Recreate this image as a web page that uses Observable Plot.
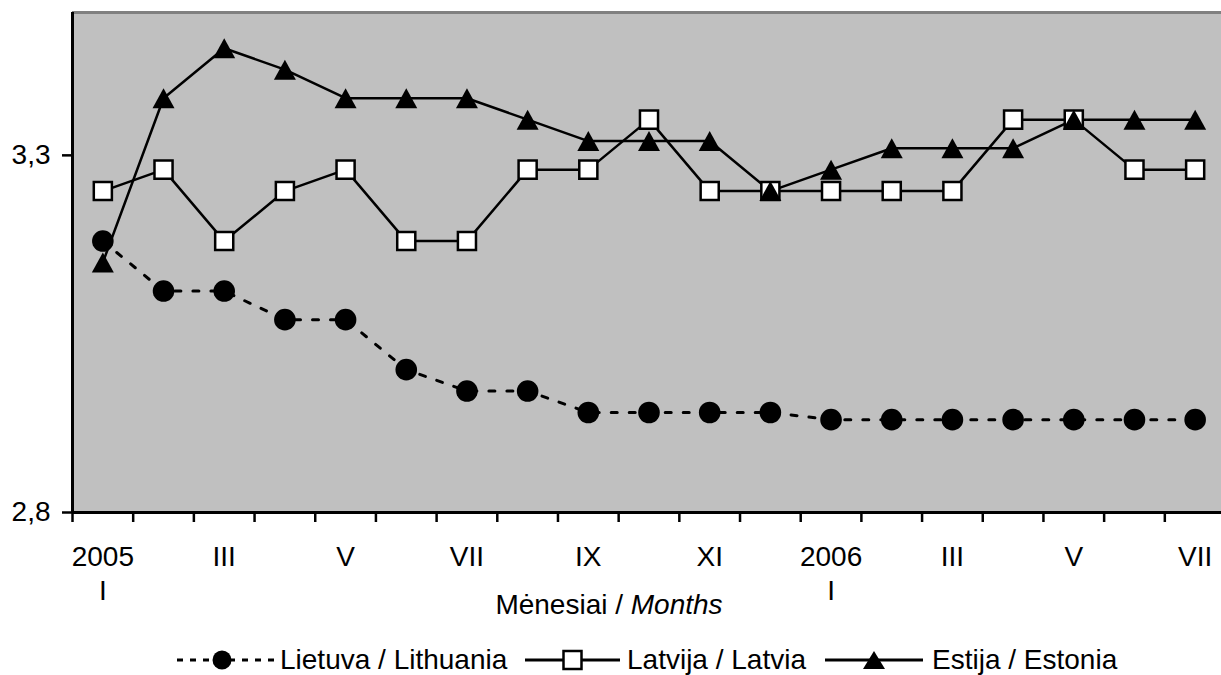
<!DOCTYPE html>
<html><head><meta charset="utf-8">
<script src="https://cdn.jsdelivr.net/npm/d3@7"></script>
<script src="https://cdn.jsdelivr.net/npm/@observablehq/plot@0.6"></script>
<style>
body{margin:0;background:#fff;font-family:"Liberation Sans",Arial,sans-serif;}
#wrap{position:relative;width:1221px;height:675px;overflow:hidden;}
#legend{position:absolute;left:0;top:640px;width:1221px;height:40px;font-size:28px;color:#000;}
#legend span{position:absolute;top:0;line-height:40px;white-space:nowrap;}
#legend svg{position:absolute;top:0;display:block;}
</style></head><body><div id="wrap"><div id="chart"></div><div id="legend"></div></div>
<script>
const months = ["I","II","III","IV","V","VI","VII","VIII","IX","X","XI","XII","I","II","III","IV","V","VI","VII"];
const years = ["2005","","","","","","","","","","","","2006","","","","","",""];
const lithuania = [3.18,3.11,3.11,3.07,3.07,3.00,2.97,2.97,2.94,2.94,2.94,2.94,2.93,2.93,2.93,2.93,2.93,2.93,2.93];
const latvia    = [3.25,3.28,3.18,3.25,3.28,3.18,3.18,3.28,3.28,3.35,3.25,3.25,3.25,3.25,3.25,3.35,3.35,3.28,3.28];
const estonia   = [3.15,3.38,3.45,3.42,3.38,3.38,3.38,3.35,3.32,3.32,3.32,3.25,3.28,3.31,3.31,3.31,3.35,3.35,3.35];
const seriesNames = ["Lietuva / Lithuania","Latvija / Latvia","Estija / Estonia"];
const yTicks = [2.8, 3.3];
const xLabelTitle = ["Mėnesiai / ", "Months"];

const toRows = vals => vals.map((v,i)=>({i, v}));
const ltRows = toRows(lithuania), lvRows = toRows(latvia), eeRows = toRows(estonia);
const labelIdx = d3.range(0, months.length, 2);

// triangle centred on its bounding box (Excel style)
const tri = {draw(ctx, size){ const r = Math.sqrt(size/Math.PI); ctx.moveTo(0,-r); ctx.lineTo(r*1.1,r); ctx.lineTo(-r*1.1,r); ctx.closePath(); }};

const plot = Plot.plot({
  width:1221, height:640,
  marginLeft:72, marginRight:0, marginTop:12, marginBottom:128,
  style:{fontFamily:"'Liberation Sans', Arial, sans-serif", fontSize:"28px", background:"white", color:"black"},
  x:{type:"linear", domain:[-0.5,18.5], range:[72,1225]},
  y:{domain:[2.8,3.5]},
  marks:[
    Plot.frame({fill:"#c0c0c0", stroke:null}),
    Plot.ruleY([3.5],{stroke:"#808080", strokeWidth:3}),
    Plot.axisY({ticks:yTicks, tickFormat:d=>d3.format(".1f")(d).replace(".",","), tickSize:10, tickPadding:12, strokeWidth:2.5, label:null, fontSize:28}),
    Plot.axisX({ticks:d3.range(-0.5,18,1), tickSize:10, tickFormat:()=>"", strokeWidth:2.5, label:null}),
    Plot.axisX({ticks:labelIdx, tickSize:0, tickPadding:30, lineHeight:1.2, fontSize:28, label:null,
      tickFormat:i=> years[i] ? years[i]+"\n"+months[i] : months[i]}),
    Plot.ruleX([-0.5],{stroke:"black", strokeWidth:3}),
    Plot.ruleY([2.8],{stroke:"black", strokeWidth:3}),
    Plot.line(ltRows,{x:"i", y:"v", stroke:"black", strokeWidth:3, strokeDasharray:"6,12"}),
    Plot.line(lvRows,{x:"i", y:"v", stroke:"black", strokeWidth:2.5}),
    Plot.line(eeRows,{x:"i", y:"v", stroke:"black", strokeWidth:2.5}),
    Plot.dot(ltRows,{x:"i", y:"v", symbol:"circle", fill:"black", r:10.8}),
    Plot.dot(lvRows,{x:"i", y:"v", symbol:"square", fill:"white", stroke:"black", strokeWidth:2.5, r:10.2}),
    Plot.dot(eeRows,{x:"i", y:"v", symbol:tri, fill:"black", r:10})
  ]
});
document.getElementById("chart").appendChild(plot);

// axis title with italic part
const t = d3.select(plot).append("text")
  .attr("x", 609).attr("y", 614).attr("text-anchor","middle")
  .attr("font-size", 28).attr("fill","black");
t.append("tspan").text(xLabelTitle[0]);
t.append("tspan").attr("font-style","italic").text(xLabelTitle[1]);

// legend (HTML, absolutely placed)
const legend = d3.select("#legend");
function item(kind, name, x0, x1, tx){
  const w = x1 - x0;
  const s = legend.append("svg").style("left", x0+"px").attr("width", w).attr("height", 40);
  const line = s.append("line").attr("x1",0).attr("x2",w).attr("y1",20).attr("y2",20)
    .attr("stroke","black").attr("stroke-width",3);
  const cx = w/2;
  if(kind==="circle"){ line.attr("stroke-dasharray","6,7"); s.append("circle").attr("cx",cx-5).attr("cy",20).attr("r",9.5).attr("fill","black"); }
  if(kind==="square"){ s.append("rect").attr("x",cx-9).attr("y",11).attr("width",18).attr("height",18).attr("fill","white").attr("stroke","black").attr("stroke-width",2.5); }
  if(kind==="triangle"){ s.append("path").attr("d","M0,-9L11,9L-11,9Z").attr("transform",`translate(${cx},20)`).attr("fill","black"); }
  legend.append("span").style("left", tx+"px").text(name);
}
item("circle", seriesNames[0], 177, 277, 280);
item("square", seriesNames[1], 525, 620, 627);
item("triangle", seriesNames[2], 825, 923, 932);
</script></body></html>
